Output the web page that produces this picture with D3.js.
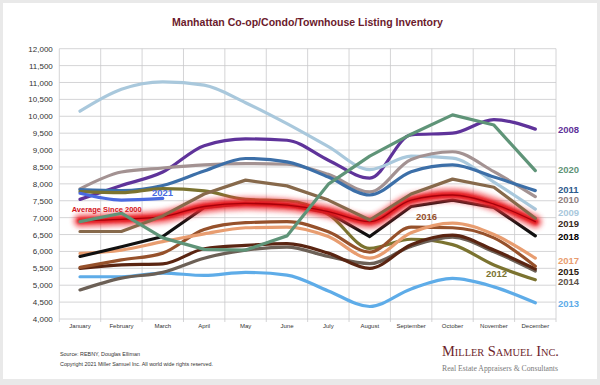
<!DOCTYPE html>
<html><head><meta charset="utf-8">
<script src="https://cdn.jsdelivr.net/npm/d3@7/dist/d3.min.js"></script>
<style>
html,body{margin:0;padding:0;background:#e9e9e9;}
svg{display:block;font-family:Arial,"Liberation Sans",sans-serif;}
</style></head>
<body>
<svg id="c" width="600" height="385"></svg>
<script>
const months = ["January","February","March","April","May","June","July","August","September","October","November","December"];
const yTicks = [4000,4500,5000,5500,6000,6500,7000,7500,8000,8500,9000,9500,10000,10500,11000,11500,12000];

const v2008 = [7540,7950,8350,9130,9330,9290,8700,8170,9450,9500,9900,9620];
const v2009 = [10150,10800,11020,10920,10400,9780,9100,8420,8820,8760,8050,7250];
const v2010 = [7850,8350,8470,8560,8600,8580,8280,7760,8720,8950,8360,7620];
const v2011 = [7830,7800,7950,8380,8750,8650,8200,7670,8360,8560,8200,7800];
const v2012 = [7770,7740,7860,7790,7540,7500,7100,6090,6360,6200,5600,5160];
const v2013 = [5250,5250,5360,5290,5380,5300,4830,4370,4890,5200,4950,4480];
const v2014 = [4860,5210,5380,5800,6040,6130,5850,5640,6150,6420,5990,5420];
const v2015 = [5500,5600,5630,6080,6180,6230,5950,5500,6200,6480,6040,5480];
const v2016 = [5530,5750,5950,6650,6850,6880,6580,5980,6720,6700,6400,5560];
const v2017 = [5940,6040,6290,6520,6700,6720,6440,5800,6550,6840,6500,5800];
const v2018 = [5850,6140,6440,7300,7420,7380,7150,6440,7330,7520,7300,6460];
const v2019 = [6590,6590,7050,7700,8110,7940,7520,6930,7700,8140,7900,6980];
const v2020 = [6880,7130,6400,6060,6040,6460,7990,8820,9470,10040,9740,8390];
const v2021 = [7720,7520,7570];
const vAvg  = [6910,6950,7030,7330,7420,7370,7180,6880,7520,7670,7400,6880];

const seriesNames = ["2008","2009","2010","2011","2012","2013","2014","2015","2016","2017","2018","2019","2020","2021"];
const seriesValues = [v2008,v2009,v2010,v2011,v2012,v2013,v2014,v2015,v2016,v2017,v2018,v2019,v2020,v2021];

// styles
const lineColor = {"2008":"#5f339a","2009":"#a9c8dc","2010":"#a39292","2011":"#3c6fa8","2012":"#7b7330",
  "2013":"#5eace8","2014":"#6c6056","2015":"#5a2512","2016":"#96512b","2017":"#e89d70","2018":"#111111",
  "2019":"#87694b","2020":"#5f9478","2021":"#4a6ae0"};
const linearYears = {"2018":1,"2019":1,"2020":1};
const labelColor = {"2008":"#5f339a","2020":"#5f9478","2011":"#2d5b8c","2010":"#8f8080","2009":"#a9c8dc",
  "2019":"#3a2a1c","2018":"#000000","2017":"#e89d70","2015":"#2a1a10","2014":"#5e544b","2013":"#5eace8"};
const labelY = {"2008":130,"2020":170,"2011":190,"2010":200,"2009":212.5,"2019":224,"2018":236.5,"2017":260.5,"2015":272,"2014":281.5,"2013":304};

const svg = d3.select("#c");
// background frame
svg.append("rect").attr("x",0).attr("y",0).attr("width",600).attr("height",385).attr("fill","#e9e9e9");
svg.append("rect").attr("x",3).attr("y",3).attr("width",594).attr("height",376).attr("fill","#ffffff");

const defs = svg.append("defs");
const f1 = defs.append("filter").attr("id","glow").attr("x","-10%").attr("y","-50%").attr("width","120%").attr("height","200%");
f1.append("feGaussianBlur").attr("stdDeviation",2.6);
const f2 = defs.append("filter").attr("id","glow2").attr("x","-10%").attr("y","-50%").attr("width","120%").attr("height","200%");
f2.append("feGaussianBlur").attr("stdDeviation",1.2);

const x = d3.scaleBand().domain(months).range([59.3,556]);
const y = d3.scaleLinear().domain([4000,12000]).range([319,48.7]);
const cx = m => x(m) + x.bandwidth()/2;

// grid
const g = svg.append("g");
g.selectAll("line.h").data(yTicks).join("line")
  .attr("x1",59.3).attr("x2",556).attr("y1",d=>y(d)).attr("y2",d=>y(d))
  .attr("stroke","#c9c9cc").attr("stroke-width",0.8);
const edges = months.map(m=>x(m)).concat([x.range()[1]]);
g.selectAll("line.v").data(edges).join("line")
  .attr("x1",d=>d).attr("x2",d=>d).attr("y1",y(12000)).attr("y2",y(4000)+3)
  .attr("stroke","#c9c9cc").attr("stroke-width",0.8);

// axes
const ya = svg.append("g").attr("transform","translate(59.3,0)")
  .call(d3.axisLeft(y).tickValues(yTicks).tickFormat(d3.format(",")).tickSize(0).tickPadding(6.5));
ya.select(".domain").remove();
ya.selectAll("text").attr("font-size","8px").attr("fill","#333").attr("font-family","Arial,'Liberation Sans',sans-serif");

const xa = svg.append("g").attr("transform","translate(0,319)")
  .call(d3.axisBottom(x).tickSize(0).tickPadding(4.5));
xa.select(".domain").remove();
xa.selectAll("text").attr("font-size","6px").attr("fill","#333").attr("font-family","Arial,'Liberation Sans',sans-serif");

// lines
const mkLine = (curve) => d3.line().x((d,i)=>cx(months[i])).y(d=>y(d)).curve(curve);
const smooth = mkLine(d3.curveMonotoneX);
const straight = mkLine(d3.curveLinear);
const lg = svg.append("g").attr("fill","none").attr("stroke-linecap","round").attr("stroke-linejoin","round");

function drawSeries(name){
  const i = seriesNames.indexOf(name);
  lg.append("path").attr("d",(linearYears[name]?straight:smooth)(seriesValues[i]))
    .attr("stroke",lineColor[name]).attr("stroke-width",3.2);
}
["2008","2009","2010","2011","2012","2013","2014","2015","2016","2017","2018"].forEach(drawSeries);

// average glow
lg.append("path").attr("d",smooth(vAvg)).attr("stroke","#f0353b").attr("stroke-width",13).attr("opacity",0.75).attr("filter","url(#glow)");
lg.append("path").attr("d",smooth(vAvg)).attr("stroke","#e3161e").attr("stroke-width",6).attr("opacity",0.9).attr("filter","url(#glow2)");
lg.append("path").attr("d",smooth(vAvg)).attr("stroke","#a8000a").attr("stroke-width",1.3);

["2019","2020","2021"].forEach(drawSeries);

// right labels
svg.append("g").selectAll("text").data(Object.keys(labelY)).join("text")
  .attr("x",558).attr("y",d=>labelY[d]).attr("dy","0.35em")
  .attr("font-size","9.5px").attr("font-weight","bold").attr("fill",d=>labelColor[d]).text(d=>d);

// inline labels
const inl = svg.append("g").attr("font-weight","bold").attr("font-size","9.5px");
inl.append("text").attr("x",152).attr("y",192.5).attr("dy","0.35em").attr("fill","#4a6ae0").text("2021");
inl.append("text").attr("x",416).attr("y",216.5).attr("dy","0.35em").attr("fill","#96512b").text("2016");
inl.append("text").attr("x",486).attr("y",273.3).attr("dy","0.35em").attr("fill","#7b7330").text("2012");
inl.append("text").attr("x",71.7).attr("y",209.3).attr("dy","0.35em").attr("font-size","7.3px").attr("fill","#d3121a")
  .attr("textLength",70).attr("lengthAdjust","spacingAndGlyphs").text("Average  Since 2000");

// title
svg.append("text").attr("x",307.5).attr("y",22).attr("dy","0.35em").attr("text-anchor","middle")
  .attr("font-size","10px").attr("font-weight","bold").attr("fill","#6b1a2c")
  .attr("textLength",271).attr("lengthAdjust","spacingAndGlyphs")
  .text("Manhattan Co-op/Condo/Townhouse Listing Inventory");

// footer
svg.append("text").attr("x",60).attr("y",354).attr("dy","0.35em").attr("font-size","5.3px").attr("fill","#333")
  .attr("textLength",80).attr("lengthAdjust","spacingAndGlyphs").text("Source: REBNY, Douglas Elliman");
svg.append("text").attr("x",60).attr("y",364.5).attr("dy","0.35em").attr("font-size","5.3px").attr("fill","#333")
  .attr("textLength",153).attr("lengthAdjust","spacingAndGlyphs").text("Copyright 2021 Miller Samuel Inc.  All world wide rights reserved.");
svg.append("text").attr("x",442).attr("y",351).attr("dy","0.35em").attr("font-size","14px")
  .attr("font-family","'Liberation Serif','DejaVu Serif',serif").style("font-variant","small-caps").attr("fill","#6e1f2c")
  .attr("textLength",117).attr("lengthAdjust","spacingAndGlyphs").text("Miller Samuel Inc.");
svg.append("text").attr("x",442).attr("y",368).attr("dy","0.35em").attr("font-size","8px")
  .attr("font-family","'Liberation Serif','DejaVu Serif',serif").attr("fill","#7a7a7a")
  .attr("textLength",116).attr("lengthAdjust","spacingAndGlyphs").text("Real Estate Appraisers & Consultants");
</script>
</body></html>
